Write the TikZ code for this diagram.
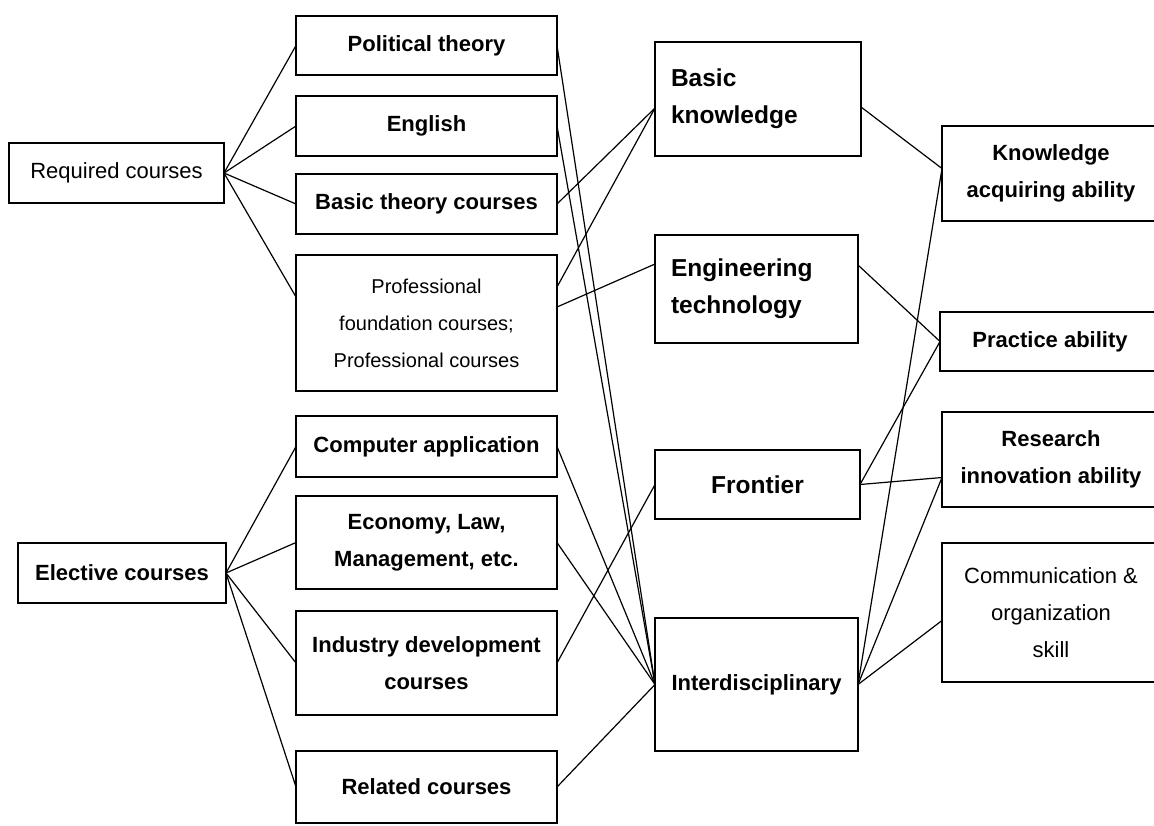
\documentclass[tikz,border=0pt]{standalone}
\usepackage{fontspec}
\setmainfont{Liberation Sans}
\usetikzlibrary{calc, positioning}
\tikzstyle{Box}=[draw, line width=1pt, inner sep=0pt, outer sep=0pt, align=center, font=\bfseries\fontsize{11}{18.5}\selectfont]
\tikzstyle{Plain}=[font=\fontsize{11}{18.5}\selectfont]
\tikzstyle{Small}=[font=\fontsize{10}{18.5}\selectfont]
\tikzstyle{Big}=[font=\bfseries\fontsize{12.25}{18.5}\selectfont]
\tikzstyle{Link}=[line width=0.6pt]

\begin{document}
\begin{tikzpicture}[x=0.5pt, y=-0.5pt]
		\useasboundingbox (0,0) rectangle (1154,825);
		% courses
		\node[Box, Plain, minimum width=107.5pt, minimum height=30pt] (req) at (116.5,173) {Required courses};
		\node[Box, minimum width=104pt, minimum height=30pt] (elec) at (122,573) {Elective courses};
		\node[Box, minimum width=130.5pt, minimum height=29.5pt] (pol) at (426.5,45.5) {Political theory};
		\node[Box, minimum width=130.5pt, minimum height=30pt] (eng) at (426.5,126) {English};
		\node[Box, minimum width=130.5pt, minimum height=30pt] (bth) at (426.5,204) {Basic theory courses};
		\node[Box, Small, minimum width=130.5pt, minimum height=68pt] (prof) at (426.5,323) {Professional\\foundation courses;\\Professional courses};
		\node[Box, minimum width=130.5pt, minimum height=30.5pt] (comp) at (426.5,446.5) {Computer application};
		\node[Box, minimum width=130.5pt, minimum height=46.5pt] (econ) at (426.5,542.5) {Economy, Law,\\Management, etc.};
		\node[Box, minimum width=130.5pt, minimum height=52pt] (ind) at (426.5,663) {Industry development\\courses};
		\node[Box, minimum width=130.5pt, minimum height=36pt] (rel) at (426.5,787) {Related courses};
		% knowledge
		\node[Box, Big, align=left, text width=87pt, minimum width=103pt, minimum height=57pt] (bk) at (758,99) {Basic\\knowledge};
		\node[Box, Big, align=left, text width=85.5pt, minimum width=101.5pt, minimum height=54pt] (engt) at (756.5,289) {Engineering\\technology};
		\node[Box, Big, minimum width=102.5pt, minimum height=34.5pt] (front) at (757.5,484.5) {Frontier};
		\node[Box, minimum width=101.5pt, minimum height=66.5pt] (inter) at (756.5,684.5) {Interdisciplinary};
		% abilities
		\node[Box, minimum width=109pt, minimum height=47.5pt] (know) at (1051,173.5) {Knowledge\\acquiring ability};
		\node[Box, minimum width=110pt, minimum height=29.5pt] (prac) at (1050,341.5) {Practice ability};
		\node[Box, minimum width=109pt, minimum height=47.5pt] (res) at (1051,459.5) {Research\\innovation ability};
		\node[Box, Plain, minimum width=109pt, minimum height=69.5pt] (comm) at (1051,612.5) {Communication \&\\organization\\skill};
		\path[Link]
		(req.east) edge (pol.west) edge (eng.west) edge (bth.west) edge ([yshift=13pt]prof.west)
		(elec.east) edge (comp.west) edge (econ.west) edge (ind.west) edge (rel.west)
		(pol.east) edge (inter.west)
		(eng.east) edge (inter.west)
		(bth.east) edge ([yshift=-4.5pt]bk.west)
		([yshift=18pt]prof.east) edge ([yshift=-4.5pt]bk.west)
		([yshift=8pt]prof.east) edge ([yshift=12.5pt]engt.west)
		(comp.east) edge (inter.west)
		(econ.east) edge (inter.west)
		(ind.east) edge (front.west)
		(rel.east) edge (inter.west)
		([yshift=-4pt]bk.east) edge ([yshift=2.5pt]know.west)
		([yshift=12pt]engt.east) edge (prac.west)
		(front.east) edge (prac.west) edge ([yshift=-9pt]res.west)
		(inter.east) edge ([yshift=2.5pt]know.west) edge ([yshift=-9pt]res.west) edge ([yshift=-4pt]comm.west)
		;
\end{tikzpicture}
\end{document}
